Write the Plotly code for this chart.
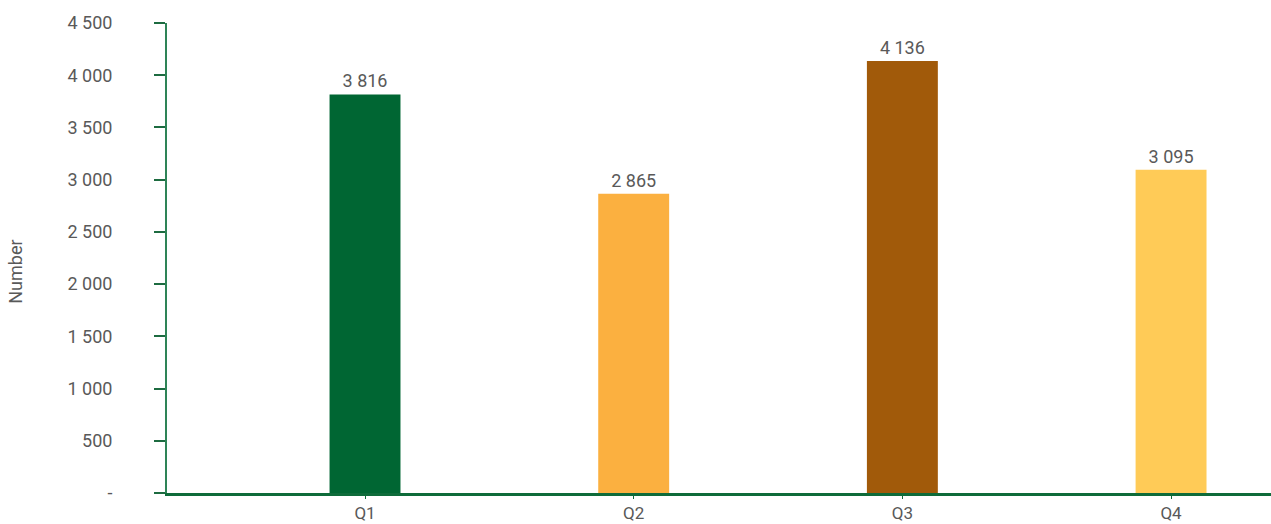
import plotly.graph_objects as go

quarters = ["Q1", "Q2", "Q3", "Q4"]
counts = [3816, 2865, 4136, 3095]
bar_colors = ["#006633", "#FBB040", "#A15A0A", "#FFCB57"]
y_tick_vals = [0, 500, 1000, 1500, 2000, 2500, 3000, 3500, 4000, 4500]
y_tick_text = ["-", "500", "1 000", "1 500", "2 000", "2 500", "3 000", "3 500", "4 000", "4 500"]

grey = "#595959"
font = dict(family="Roboto", size=18, color=grey)

fig = go.Figure()
fig.add_trace(
    go.Bar(
        x=quarters,
        y=counts,
        marker=dict(color=bar_colors, line=dict(width=0)),
        width=0.264,
        texttemplate="%{y:,}",
        textposition="outside",
        textfont=font,
        cliponaxis=False,
    )
)

fig.update_xaxes(
    range=[-0.737, 3.372],
    automargin=False,
    showline=True,
    linecolor="#0E6B3A",
    linewidth=3,
    ticks="outside",
    ticklen=3,
    tickcolor="#0E6B3A",
    tickfont=dict(family="Roboto", size=17, color=grey),
    showgrid=False,
    zeroline=False,
)
fig.update_yaxes(
    range=[0, 4500],
    automargin=False,
    tickvals=y_tick_vals,
    ticktext=y_tick_text,
    showline=True,
    linecolor="#2E8457",
    linewidth=2,
    ticks="outside",
    ticklen=11,
    tickcolor="#1D6B40",
    tickwidth=2,
    ticklabelstandoff=38,
    tickfont=font,
    showgrid=False,
    zeroline=False,
)
fig.add_annotation(
    text="Number",
    xref="paper",
    yref="paper",
    x=-0.138,
    y=0.47,
    xanchor="center",
    yanchor="middle",
    textangle=-90,
    showarrow=False,
    font=font,
)
fig.update_layout(
    width=1271,
    height=524,
    margin=dict(l=167, r=0, t=23, b=31),
    plot_bgcolor="white",
    paper_bgcolor="white",
    separators=". ",
    showlegend=False,
)
fig.write_html(
    "out.html",
    config={"displayModeBar": False},
    post_script="document.body.style.margin='0';",
)
